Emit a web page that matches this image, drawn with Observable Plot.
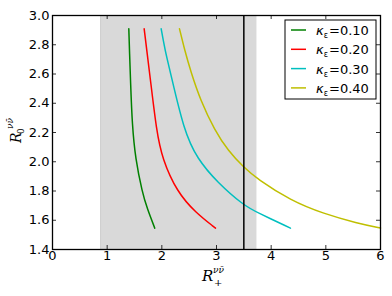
<!DOCTYPE html>
<html>
<head>
<meta charset="utf-8">
<script src="https://cdn.jsdelivr.net/npm/d3@7"></script>
<script src="https://cdn.jsdelivr.net/npm/@observablehq/plot@0.6"></script>
<style>
  html, body { margin: 0; padding: 0; background: white; }
</style>
</head>
<body>
<div id="chart"></div>
<script>
// ---- data ----
const kappaLabels = ["0.10", "0.20", "0.30", "0.40"];
const seriesColors = ["#008000", "#ff0000", "#00bfbf", "#bfbf00"];

const greenRp = [1.396, 1.410, 1.427, 1.458, 1.518, 1.641, 1.732, 1.871];
const greenR0 = [2.909, 2.740, 2.556, 2.248, 2.020, 1.792, 1.680, 1.546];

const redRp = [1.677, 1.735, 1.793, 1.902, 2.007, 2.281, 2.616, 2.982];
const redR0 = [2.909, 2.730, 2.556, 2.214, 2.020, 1.792, 1.653, 1.546];

const cyanRp = [1.988, 2.060, 2.149, 2.402, 2.647, 3.013, 3.499, 3.745, 4.353];
const cyanR0 = [2.909, 2.760, 2.624, 2.214, 2.020, 1.860, 1.701, 1.653, 1.546];

const yellowRp = [2.323, 2.420, 2.524, 2.707, 2.969, 3.210, 3.499, 3.745, 4.354, 4.963, 5.574, 6.000];
const yellowR0 = [2.909, 2.760, 2.624, 2.419, 2.214, 2.077, 1.961, 1.883, 1.735, 1.644, 1.580, 1.547];

const xTicks = [0, 1, 2, 3, 4, 5, 6];
const yTicks = [1.4, 1.6, 1.8, 2.0, 2.2, 2.4, 2.6, 2.8, 3.0];
const shadedBand = [0.88, 3.74];
const markerLine = [3.5];

// ---- build table ----
const allRp = [greenRp, redRp, cyanRp, yellowRp];
const allR0 = [greenR0, redR0, cyanR0, yellowR0];
const rows = [];
allRp.forEach((xs, i) => xs.forEach((x, j) => rows.push({k: kappaLabels[i], x, y: allR0[i][j]})));

// ---- layout ----
const W = 392, H = 296, mL = 52, mR = 12, mT = 15, mB = 47;
const fw = W - mL - mR, fh = H - mT - mB;
const tickLen = 4;

const svg = Plot.plot({
  width: W, height: H,
  marginLeft: mL, marginRight: mR, marginTop: mT, marginBottom: mB,
  style: {fontFamily: "DejaVu Sans", fontSize: "13px", background: "white", color: "black"},
  x: {domain: [0, 6], axis: null},
  y: {domain: [1.4, 3.0], axis: null},
  color: {domain: kappaLabels, range: seriesColors},
  marks: [
    Plot.rect([shadedBand], {x1: d => d[0], x2: d => d[1], fill: "#d9d9d9"}),
    Plot.ruleX([shadedBand[0]], {stroke: "#cfcfcf", strokeWidth: 1}),
    Plot.line(rows, {x: "x", y: "y", z: "k", stroke: "k", strokeWidth: 1.5, curve: "basis"}),
    Plot.ruleX(markerLine, {stroke: "black", strokeWidth: 1.5}),
    Plot.tickX(xTicks, {x: d => d, insetTop: fh - tickLen, stroke: "black", strokeWidth: 0.8}),
    Plot.tickX(xTicks, {x: d => d, insetBottom: fh - tickLen, stroke: "black", strokeWidth: 0.8}),
    Plot.tickY(yTicks, {y: d => d, insetRight: fw - tickLen, stroke: "black", strokeWidth: 0.8}),
    Plot.tickY(yTicks, {y: d => d, insetLeft: fw - tickLen, stroke: "black", strokeWidth: 0.8}),
    Plot.frame({stroke: "black", strokeWidth: 1.3}),
    Plot.text(xTicks, {x: d => d, frameAnchor: "bottom", dy: 10, text: d => String(d), fontSize: 13, fill: "black"}),
    Plot.text(yTicks, {y: d => d, frameAnchor: "left", dx: -3, textAnchor: "end", text: d => d.toFixed(1), fontSize: 13, fill: "black"})
  ]
});

document.getElementById("chart").appendChild(svg);

// ---- legend and axis titles ----
const s = d3.select(svg);
const lg = s.append("g").attr("text-anchor", "start");
const boxX = W - mR - 95, boxY = mT + 5, boxW = 91, boxH = 79;
lg.append("rect").attr("x", boxX).attr("y", boxY).attr("width", boxW).attr("height", boxH)
  .attr("fill", "white").attr("stroke", "black").attr("stroke-width", 1);
kappaLabels.forEach((lab, i) => {
  const cy = boxY + 10 + i * 19.3;
  lg.append("line").attr("x1", boxX + 6).attr("x2", boxX + 21).attr("y1", cy).attr("y2", cy)
    .attr("stroke", seriesColors[i]).attr("stroke-width", 1.5);
  const t = lg.append("text").attr("x", boxX + 31).attr("y", cy + 5).attr("text-anchor", "start")
    .attr("font-family", "DejaVu Sans").attr("font-size", 13).attr("fill", "black");
  t.append("tspan").attr("font-style", "italic").text("κ");
  t.append("tspan").attr("font-size", 8).attr("dy", 3).text("ε");
  t.append("tspan").attr("dy", -3).attr("dx", 1).text("=" + lab);
});

// x axis title
const xt = s.append("g").attr("font-family", "DejaVu Serif").attr("fill", "black").attr("text-anchor", "start");
xt.append("text").attr("x", 202).attr("y", 281).attr("font-size", 15).attr("font-style", "italic").text("R");
xt.append("text").attr("x", 213).attr("y", 273).attr("font-size", 9).attr("font-style", "italic").text("νν\u0304");
xt.append("text").attr("x", 214).attr("y", 286).attr("font-size", 10).text("+");

// y axis title
const yt = s.append("g").attr("transform", "translate(21,143) rotate(-90)")
  .attr("font-family", "DejaVu Serif").attr("fill", "black").attr("text-anchor", "start");
yt.append("text").attr("x", 0).attr("y", 0).attr("font-size", 14).attr("font-style", "italic").text("R");
yt.append("text").attr("x", 14).attr("y", -8).attr("font-size", 9).attr("font-style", "italic").text("νν\u0304");
yt.append("text").attr("x", 9).attr("y", 3).attr("font-size", 9).text("0");
</script>
</body>
</html>
